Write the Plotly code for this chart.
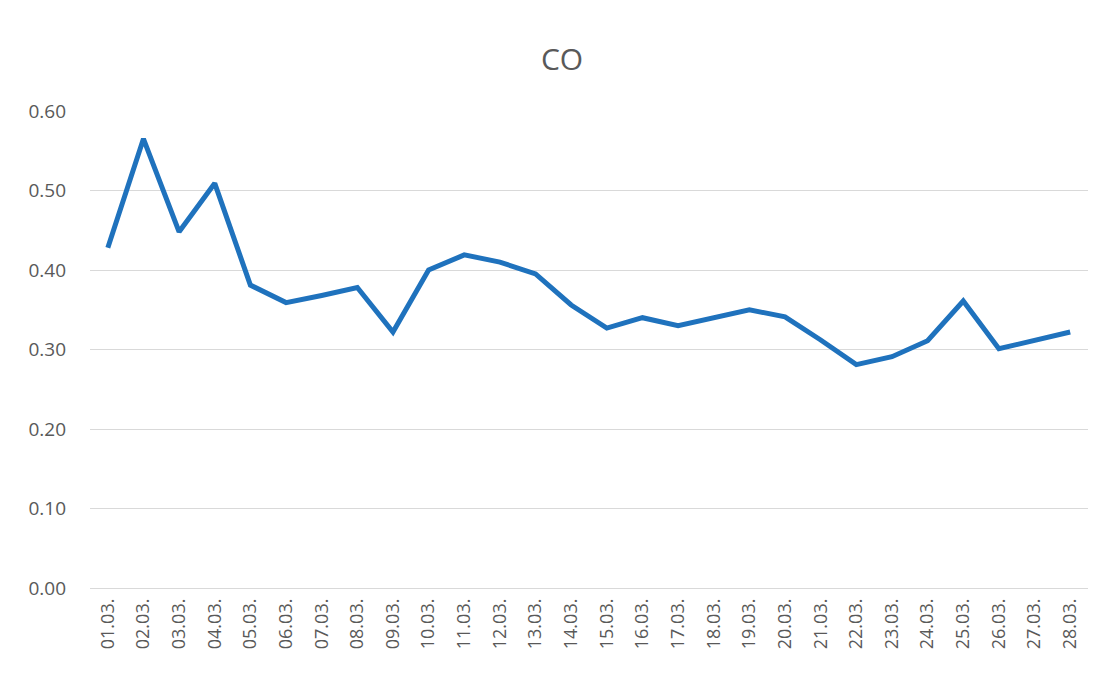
import plotly.graph_objects as go

dates = ["01.03.", "02.03.", "03.03.", "04.03.", "05.03.", "06.03.", "07.03.",
         "08.03.", "09.03.", "10.03.", "11.03.", "12.03.", "13.03.", "14.03.",
         "15.03.", "16.03.", "17.03.", "18.03.", "19.03.", "20.03.", "21.03.",
         "22.03.", "23.03.", "24.03.", "25.03.", "26.03.", "27.03.", "28.03."]
co_values = [0.428, 0.565, 0.448, 0.509, 0.381, 0.359, 0.368,
             0.378, 0.322, 0.400, 0.419, 0.410, 0.395, 0.356,
             0.327, 0.340, 0.330, 0.340, 0.350, 0.341, 0.312,
             0.281, 0.291, 0.311, 0.361, 0.301, 0.312, 0.322]
y_ticks = [0.0, 0.1, 0.2, 0.3, 0.4, 0.5, 0.6]

fig = go.Figure()
fig.add_trace(go.Scatter(
    x=dates, y=co_values, mode="lines",
    line=dict(color="#1F72BD", width=5),
    showlegend=False,
))

fig.update_layout(
    width=1108, height=675,
    paper_bgcolor="white", plot_bgcolor="white",
    margin=dict(l=82, r=28, t=103, b=95),
    title=dict(text="CO", x=0.5, xanchor="center", y=0.924, yanchor="middle",
               font=dict(family="Open Sans, Lato, sans-serif", size=30, color="#595959")),
    font=dict(family="Open Sans, Lato, sans-serif", color="#595959"),
)
fig.update_xaxes(
    type="category", tickangle=-90, showgrid=False, showline=False,
    ticks="", ticklabelstandoff=6, tickfont=dict(size=18, color="#595959"),
    range=[-0.5, len(dates) - 0.5],
)
fig.update_yaxes(
    range=[0, 0.6], tickvals=y_ticks, tickformat=".2f",
    showgrid=True, gridcolor="#D9D9D9", gridwidth=1,
    zeroline=True, zerolinecolor="#D9D9D9", zerolinewidth=1,
    showline=False, ticks="", ticklabelstandoff=23,
    tickfont=dict(size=19, color="#595959"),
)

fig.write_html("out.html")
